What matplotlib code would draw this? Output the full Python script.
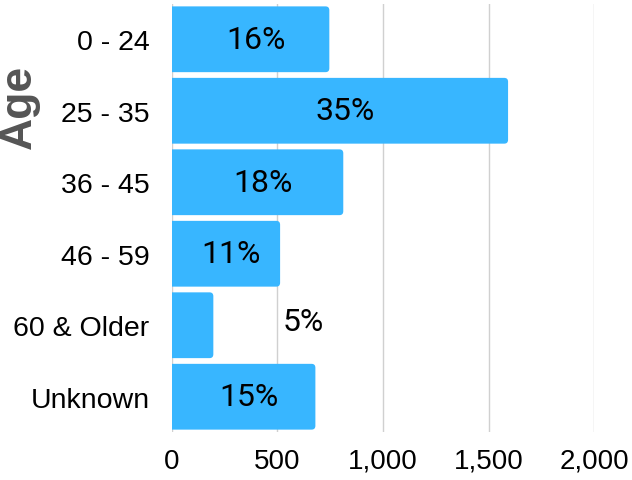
import matplotlib.pyplot as plt
from matplotlib.patches import FancyBboxPatch

edades = ["0 - 24", "25 - 35", "36 - 45", "46 - 59", "60 & Older", "Unknown"]
cantidad = [746, 1592, 812, 513, 197, 680]
porcentajes = ["16%", "35%", "18%", "11%", "5%", "15%"]
xticks = [0, 500, 1000, 1500, 2000]
xtick_labels = ["0", "500", "1,000", "1,500", "2,000"]

color_barra = "#38b6ff"

fig = plt.figure(figsize=(6.32, 4.81), dpi=100)
ax = fig.add_axes([0.2717, 0.0988, 0.6686, 0.8918])

pos = list(range(len(edades)))
barras = ax.barh(pos, cantidad, height=0.92, color=color_barra, zorder=2)
ax.set_ylim(len(edades) - 0.5, -0.5)
ax.set_xlim(0, 2000)

# esquinas redondeadas (a la derecha, la izquierda queda cortada por el eje)
radio = 18
for b in barras:
    b.set_visible(False)
    x0, y0 = b.get_x(), b.get_y()
    w, h = b.get_width(), b.get_height()
    p = FancyBboxPatch((x0 - radio, y0), w + radio, h,
                       boxstyle="round,pad=0,rounding_size=%d" % radio,
                       mutation_aspect=0.003, color=color_barra, zorder=2,
                       linewidth=0)
    ax.add_patch(p)

for i in pos:
    if cantidad[i] > 400:
        ax.annotate(porcentajes[i], (cantidad[i] / 2, i), xytext=(4, 0),
                    textcoords="offset points", ha="center", va="center",
                    fontsize=23, family="Roboto", color="black", zorder=3)
    else:
        ax.annotate(porcentajes[i], (cantidad[i], i), xytext=(50, 3),
                    textcoords="offset points", ha="left", va="center",
                    fontsize=23, family="Roboto", color="black", zorder=3)

ax.set_xticks(xticks)
ax.set_xticklabels(xtick_labels)
ax.set_yticks(pos)
ax.set_yticklabels(edades)
ax.tick_params(axis="y", length=0, labelsize=20.5, pad=16)
ax.tick_params(axis="x", length=0, labelsize=20, pad=11)
for lbl in ax.get_xticklabels() + ax.get_yticklabels():
    lbl.set_family("Liberation Sans")

ax.grid(axis="x", color="#d0d0d0", linewidth=1, zorder=0)
for s in ax.spines.values():
    s.set_visible(False)

fig.text(0.03, 0.778, "Age", rotation=90, ha="center", va="center",
         fontsize=32, fontweight="bold", color="#555555", family="Liberation Sans")

plt.savefig("out.png", dpi=100)
